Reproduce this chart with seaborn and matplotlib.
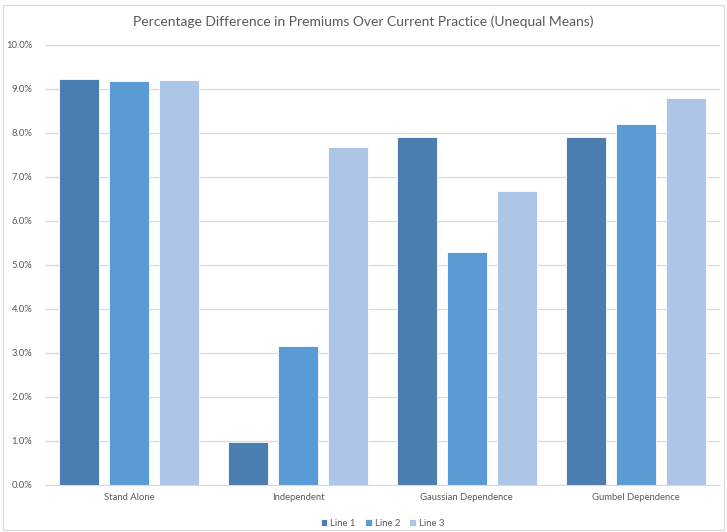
import pandas as pd
import seaborn as sns
import matplotlib.pyplot as plt
from matplotlib.patches import Rectangle
from matplotlib.ticker import FuncFormatter

# values (percent)
categories = ["Stand Alone", "Independent", "Gaussian Dependence", "Gumbel Dependence"]
series = ["Line 1", "Line 2", "Line 3"]
line1 = [9.23, 0.98, 7.91, 7.91]
line2 = [9.18, 3.15, 5.30, 8.20]
line3 = [9.20, 7.69, 6.68, 8.80]

colors = ["#4A7EB0", "#5B9BD5", "#ADC5E6"]

rows = []
for name, vals in zip(series, [line1, line2, line3]):
    for cat, v in zip(categories, vals):
        rows.append({"case": cat, "series": name, "value": v})
df = pd.DataFrame(rows)

sns.set_style("white")
plt.rcParams['font.family'] = ['Lato', 'DejaVu Sans']

fig = plt.figure(figsize=(7.27, 5.32), dpi=100)
ax = fig.add_axes([45 / 727, 1 - 485 / 532, 675 / 727, 440 / 532])

sns.barplot(data=df, x="case", y="value", hue="series", palette=colors, saturation=1,
            width=0.888, gap=0.2, edgecolor="white", linewidth=0.6, ax=ax)

ax.set_ylim(0, 10)
ax.set_yticks(range(0, 11))
ax.yaxis.set_major_formatter(FuncFormatter(lambda v, p: f"{v:.1f}%"))
ax.grid(axis="y", color="#D9D9D9", linewidth=0.9)
ax.set_axisbelow(True)
for s in ["top", "right", "left"]:
    ax.spines[s].set_visible(False)
ax.spines["bottom"].set_color("#D9D9D9")
ax.tick_params(axis="both", length=0, labelsize=6.8, colors="#595959")
ax.tick_params(axis="y", pad=9)
ax.tick_params(axis="x", pad=6)
ax.set_xlabel("")
ax.set_ylabel("")

ax.legend(loc="upper center", bbox_to_anchor=(0.5, -0.058), ncol=3, frameon=False,
          fontsize=6.8, handlelength=0.7, handleheight=0.7, handletextpad=0.3,
          columnspacing=1.0, labelcolor="#595959")

fig.text(0.5, 1 - 22 / 532, "Percentage Difference in Premiums Over Current Practice (Unequal Means)",
         ha="center", va="center", fontsize=10, color="#595959")

# light chart-area border
fig.patches.append(Rectangle((3 / 727, 2 / 532), 721 / 727, 525 / 532, transform=fig.transFigure,
                             fill=False, edgecolor="#D9D9D9", linewidth=0.8))

plt.savefig("out.png", dpi=100)
